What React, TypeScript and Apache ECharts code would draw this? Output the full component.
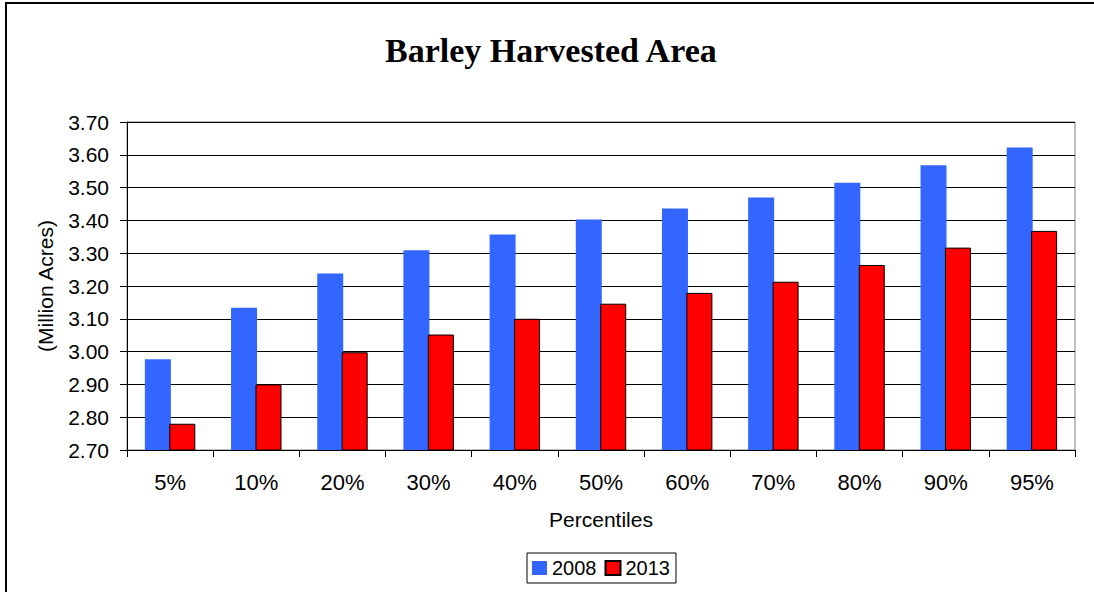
import React, { useEffect, useRef } from "react";
import * as echarts from "echarts";

const categories = ["5%", "10%", "20%", "30%", "40%", "50%", "60%", "70%", "80%", "90%", "95%"];
const series2008 = [2.977, 3.134, 3.238, 3.309, 3.357, 3.403, 3.436, 3.470, 3.515, 3.568, 3.622];
const series2013 = [2.780, 2.900, 2.998, 3.052, 3.100, 3.146, 3.179, 3.213, 3.264, 3.317, 3.368];
const seriesNames = ["2008", "2013"];
const titleText = "Barley Harvested Area";
const yAxisTitle = "(Million Acres)";
const xAxisTitle = "Percentiles";

export default function App() {
  const ref = useRef<HTMLDivElement>(null);
  useEffect(() => {
    if (!ref.current) return;
    document.body.style.margin = "0";
    document.body.style.overflow = "hidden";
    document.documentElement.style.overflow = "hidden";
    const chart = echarts.init(ref.current, undefined, { renderer: "svg" });
    const font = "Arial, 'Liberation Sans', sans-serif";
    chart.setOption({
      animation: false,
      backgroundColor: "#fff",
      title: {
        text: titleText,
        left: 385,
        top: 33,
        padding: 0,
        textStyle: {
          fontFamily: "'Times New Roman', 'Liberation Serif', serif",
          fontWeight: "bold",
          fontSize: 34,
          color: "#000",
        },
      },
      graphic: [
        {
          type: "line",
          shape: { x1: 5, y1: 3, x2: 1094, y2: 3 },
          style: { stroke: "#000", lineWidth: 2 },
          silent: true,
        },
        {
          type: "line",
          shape: { x1: 6, y1: 2, x2: 6, y2: 592 },
          style: { stroke: "#000", lineWidth: 2 },
          silent: true,
        },
      ],
      legend: {
        data: seriesNames,
        left: 527,
        top: 553,
        orient: "horizontal",
        itemWidth: 15,
        itemHeight: 14,
        itemGap: 8,
        padding: [5, 6, 5, 5],
        borderColor: "#000",
        borderWidth: 1,
        icon: "rect",
        textStyle: { fontFamily: font, fontSize: 20, color: "#000" },
      },
      grid: { left: 127, top: 122, width: 948, height: 328, show: true, borderColor: "#808080", borderWidth: 1 },
      xAxis: {
        type: "category",
        data: categories,
        name: xAxisTitle,
        nameLocation: "middle",
        nameGap: 59,
        nameTextStyle: { fontFamily: font, fontSize: 21, color: "#000" },
        axisLine: { lineStyle: { color: "#000", width: 1 } },
        axisTick: { show: true, length: 7, lineStyle: { color: "#000" } },
        axisLabel: { fontFamily: font, fontSize: 22, color: "#000", margin: 21 },
      },
      yAxis: {
        type: "value",
        min: 2.7,
        max: 3.7,
        interval: 0.1,
        name: yAxisTitle,
        nameLocation: "middle",
        nameGap: 71,
        nameTextStyle: { fontFamily: font, fontSize: 21, color: "#000" },
        axisLine: { show: true, lineStyle: { color: "#000", width: 1 } },
        axisTick: { show: true, length: 7, lineStyle: { color: "#000" } },
        axisLabel: {
          fontFamily: font,
          fontSize: 21,
          color: "#000",
          margin: 18,
          formatter: (v: number) => v.toFixed(2),
        },
        splitLine: { show: true, lineStyle: { color: "#000", width: 1 } },
      },
      series: [
        {
          name: seriesNames[0],
          type: "bar",
          data: series2008,
          barWidth: 26,
          barGap: "-6%",
          itemStyle: { color: "#3366FF" },
        },
        {
          name: seriesNames[1],
          type: "bar",
          data: series2013,
          barWidth: 26,
          barGap: "-6%",
          itemStyle: { color: "#FF0000", borderColor: "#000", borderWidth: 1 },
        },
      ],
    });
    return () => chart.dispose();
  }, []);
  return (
    <div
      ref={ref}
      style={{ position: "absolute", left: 0, top: 0, width: 1094, height: 592 }}
    />
  );
}
